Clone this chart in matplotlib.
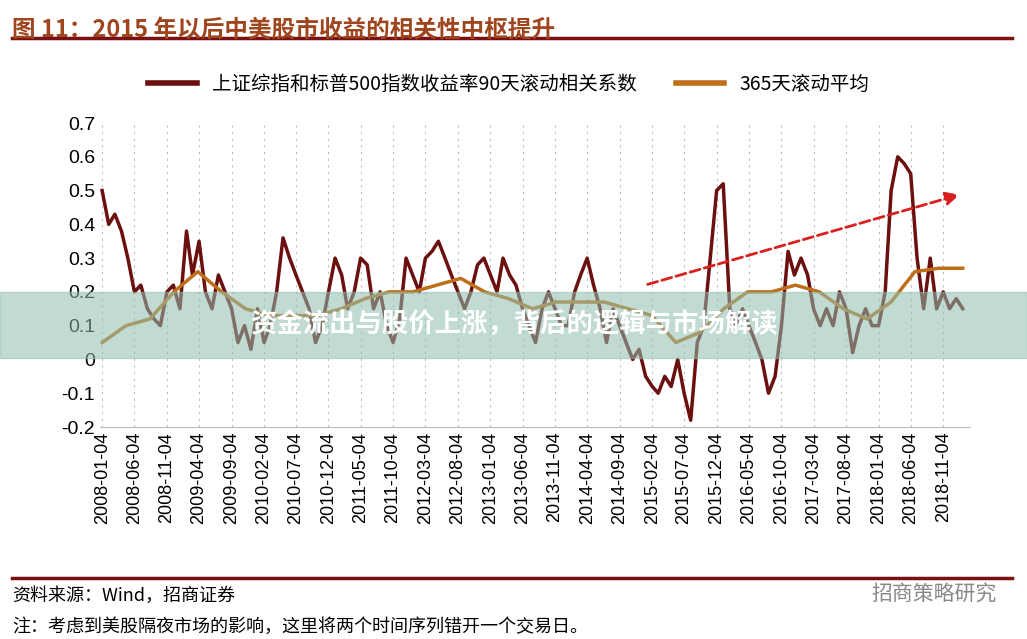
import matplotlib
matplotlib.use("Agg")
import matplotlib.pyplot as plt
import numpy as np
import pandas as pd

plt.rcParams['font.family'] = ['Noto Sans CJK SC', 'DejaVu Sans']

corr = [0.5,0.4,0.43,0.38,0.3,0.2,0.22,0.15,0.12,0.1,0.2,0.22,
        0.15,0.38,0.25,0.35,0.2,0.15,0.25,0.2,0.15,0.05,0.1,0.03,
        0.15,0.05,0.1,0.2,0.36,0.3,0.25,0.2,0.15,0.05,0.1,0.2,
        0.3,0.25,0.15,0.2,0.3,0.28,0.15,0.2,0.1,0.05,0.12,0.3,
        0.25,0.2,0.3,0.32,0.35,0.3,0.25,0.2,0.15,0.2,0.28,0.3,
        0.25,0.2,0.3,0.25,0.22,0.15,0.1,0.05,0.15,0.2,0.15,0.1,
        0.1,0.2,0.25,0.3,0.22,0.15,0.05,0.15,0.1,0.05,0.0,0.03,
        -0.05,-0.08,-0.1,-0.05,-0.08,0.0,-0.1,-0.18,0.05,0.1,0.3,0.5,
        0.52,0.15,0.1,0.15,0.1,0.05,0.0,-0.1,-0.05,0.1,0.32,0.25,
        0.3,0.25,0.15,0.1,0.15,0.1,0.2,0.15,0.02,0.1,0.15,0.1,
        0.1,0.2,0.5,0.6,0.58,0.55,0.3,0.15,0.3,0.15,0.2,0.15,
        0.18,0.15]
corr_dates = pd.date_range("2008-01-01", periods=len(corr), freq="MS") + pd.Timedelta(days=3)

avg = [0.05,0.1,0.12,0.2,0.26,0.2,0.15,0.13,0.13,0.13,0.15,0.18,
       0.2,0.2,0.22,0.24,0.2,0.18,0.15,0.17,
       0.17,0.17,0.15,0.13,0.05,0.08,0.15,0.2,0.2,0.22,0.2,0.15,0.12,0.17,0.26,0.27,0.27]
avg_dates = pd.date_range("2008-01-04", "2019-02-04", periods=len(avg))

tick_labels = pd.date_range("2008-01-01", "2018-11-04", freq="5MS") + pd.Timedelta(days=3)

fig = plt.figure(figsize=(10.27, 6.39), dpi=100)
ax = fig.add_axes([100/1027, 1-427/639, 870/1027, 304/639])
ax.plot(corr_dates, corr, color="#6B0F0F", lw=2.5, label="上证综指和标普500指数收益率90天滚动相关系数")
ax.plot(avg_dates, avg, color="#BF6F1A", lw=2.5, label="365天滚动平均")
ax.set_ylim(-0.2, 0.7)
ax.set_yticks(np.arange(-0.2, 0.71, 0.1))
ax.set_yticklabels(["-0.2","-0.1","0","0.1","0.2","0.3","0.4","0.5","0.6","0.7"], fontsize=14, family="Liberation Sans")
ax.set_xlim(pd.Timestamp("2007-12-25"), pd.Timestamp("2019-03-10"))
ax.set_xticks(tick_labels)
ax.set_xticklabels([d.strftime("%Y-%m-%d") for d in tick_labels], rotation=90, fontsize=13, family="Liberation Sans")
ax.grid(axis="x", ls=(0, (2, 4)), color="#BBBBBB", lw=0.8)
for s in ["top", "right", "left"]:
    ax.spines[s].set_visible(False)
ax.spines["bottom"].set_color("#BBBBBB")
ax.tick_params(length=0)
ax.annotate("", xy=(pd.Timestamp("2019-02-01"), 0.49), xytext=(pd.Timestamp("2015-01-01"), 0.22),
            arrowprops=dict(arrowstyle="-|>", color="#D92020", lw=2, ls="--", mutation_scale=20))
leg = ax.legend(loc="upper center", bbox_to_anchor=(0.47, 1.22), ncol=2, frameon=False, fontsize=14,
          handlelength=2.5, columnspacing=2)
for l in leg.get_lines():
    l.set_linewidth(4)

fig.text(0.012, 0.972, "图 11：2015 年以后中美股市收益的相关性中枢提升", fontsize=17, fontweight="bold",
         color="#A0461E", va="top")
fig.add_artist(plt.Line2D([0.012, 0.985], [1-38/639]*2, color="#7A1010", lw=2.5))
fig.add_artist(plt.Line2D([0.012, 0.985], [1-578/639]*2, color="#7A1010", lw=2.5))
fig.text(0.012, 1-596/639, "资料来源：Wind，招商证券", fontsize=13, va="center")
fig.text(0.012, 1-627/639, "注：考虑到美股隔夜市场的影响，这里将两个时间序列错开一个交易日。", fontsize=13, va="center")
fig.text(0.97, 1-594/639, "招商策略研究", fontsize=15, va="center", ha="right", color="#888888")

fig.add_artist(plt.Rectangle((0, 1-358/639), 1, 66/639, color="#8FBFB0", alpha=0.55, transform=fig.transFigure))
fig.text(0.5, 1-325/639, "资金流出与股价上涨，背后的逻辑与市场解读", fontsize=19, fontweight="bold",
         color="white", ha="center", va="center")
fig.savefig("out.png", dpi=100)
